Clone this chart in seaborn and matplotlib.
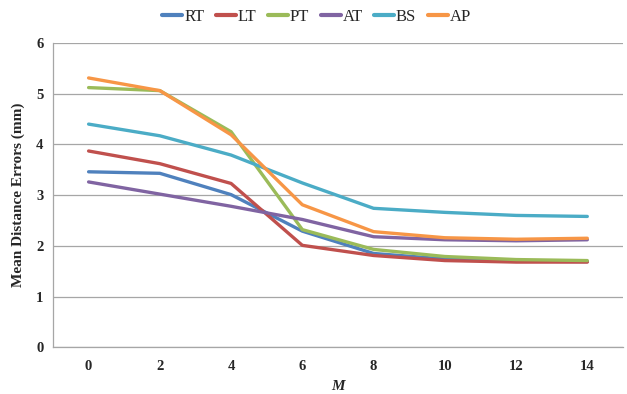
import numpy as np
import pandas as pd
import seaborn as sns
import matplotlib.pyplot as plt

sns.set_style('white')
plt.rcParams['font.family'] = ['Liberation Serif', 'DejaVu Serif']

m_labels = ['0', '2', '4', '6', '8', '10', '12', '14']
rt = [3.46, 3.43, 3.01, 2.29, 1.85, 1.74, 1.70, 1.69]
lt = [3.87, 3.62, 3.23, 2.01, 1.81, 1.71, 1.68, 1.68]
pt = [5.12, 5.06, 4.25, 2.32, 1.93, 1.79, 1.73, 1.71]
at = [3.26, 3.02, 2.78, 2.52, 2.18, 2.12, 2.10, 2.12]
bs = [4.40, 4.17, 3.79, 3.24, 2.74, 2.66, 2.60, 2.58]
ap = [5.31, 5.06, 4.19, 2.81, 2.28, 2.16, 2.13, 2.15]

series = {'RT': rt, 'LT': lt, 'PT': pt, 'AT': at, 'BS': bs, 'AP': ap}
colors = ['#4F81BD', '#C0504D', '#9BBB59', '#8064A2', '#4BACC6', '#F79646']

rows = []
for name, vals in series.items():
    for i, v in enumerate(vals):
        rows.append({'pos': i, 'err': v, 'method': name})
df = pd.DataFrame(rows)

fig = plt.figure(figsize=(6.27, 3.94), dpi=100)
ax = fig.add_axes([0.0845, 0.1185, 0.909, 0.7725])

sns.lineplot(data=df, x='pos', y='err', hue='method', palette=colors,
             linewidth=2.4, ax=ax, legend=False)

ax.set_xlim(-0.5, 7.5)
ax.set_ylim(0, 6)
ax.set_yticks(range(0, 7))
ax.yaxis.grid(True, color='#A6A6A6', linewidth=0.9)
ax.set_axisbelow(True)

ax.set_xticks(np.arange(8))
ax.set_xticklabels(m_labels)
ax.set_xticks(np.arange(-0.5, 8, 1), minor=True)
ax.tick_params(axis='x', which='major', length=0, pad=9)
ax.tick_params(axis='x', which='minor', length=4, color='#A6A6A6', direction='out')
ax.tick_params(axis='y', length=4, color='#A6A6A6', direction='out', pad=3)
for lab in ax.get_xticklabels() + ax.get_yticklabels():
    lab.set_fontweight('bold')
    lab.set_fontsize(10.5)

for s in ['top', 'right']:
    ax.spines[s].set_visible(False)
for s in ['left', 'bottom']:
    ax.spines[s].set_color('#A6A6A6')
    ax.spines[s].set_linewidth(0.9)

ax.set_xlabel('M', fontsize=11, fontweight='bold', style='italic', labelpad=5)
ax.set_ylabel('Mean Distance Errors (mm)', fontsize=11, fontweight='bold', labelpad=8)

handles = [plt.Line2D([], [], color=c, linewidth=3) for c in colors]
fig.legend(handles, list(series.keys()), loc='center', bbox_to_anchor=(0.505, 0.958),
           ncol=6, frameon=False, fontsize=12, handlelength=1.2,
           handletextpad=0.1, columnspacing=0.7)

fig.savefig('out.png', dpi=100)
